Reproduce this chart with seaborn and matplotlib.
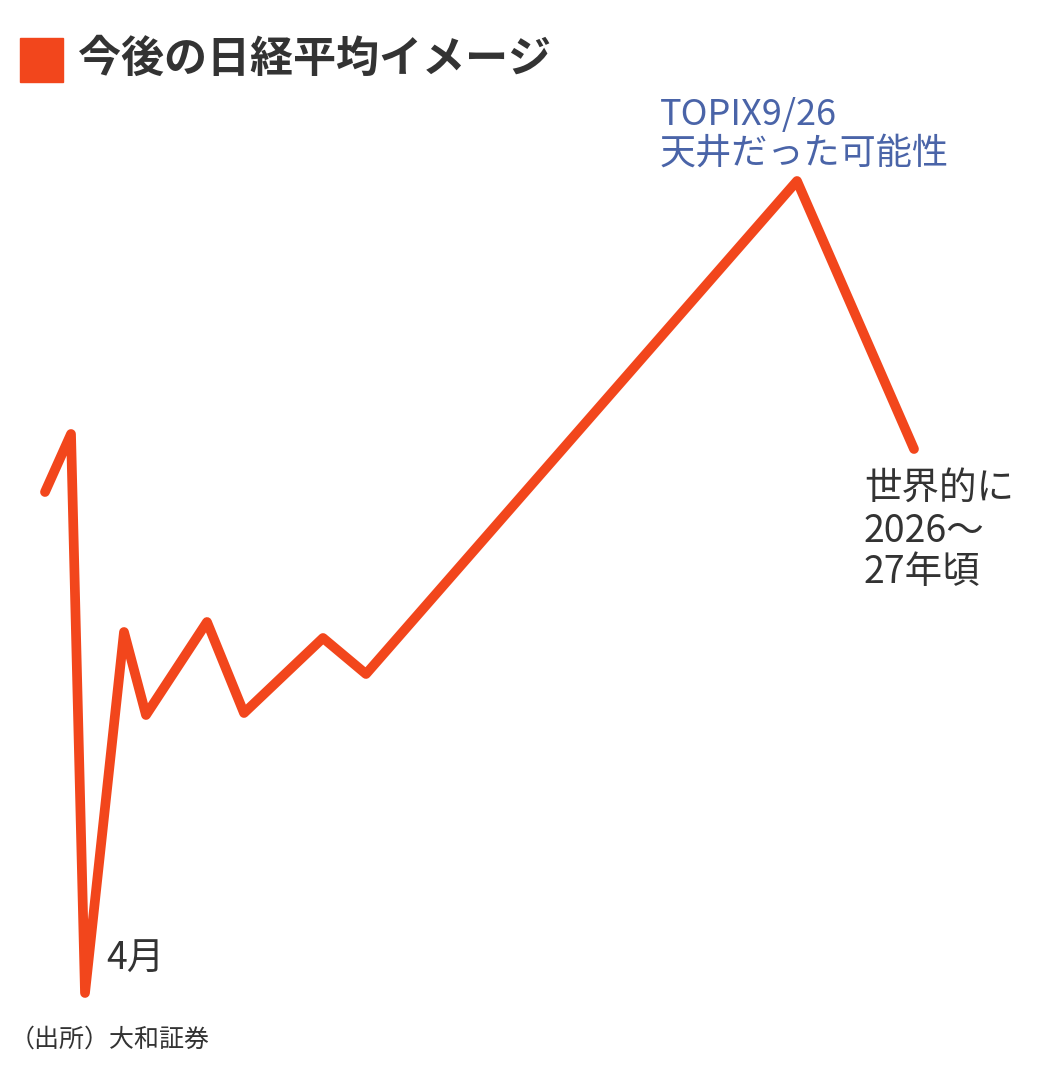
import seaborn as sns
import matplotlib.pyplot as plt
import pandas as pd

step = [45, 71, 85, 124, 146, 207, 244, 323, 366, 797, 914]
level = [584, 642, 83, 444, 361, 454, 363, 438, 402, 895, 627]

title = "今後の日経平均イメージ"
note_top = "TOPIX9/26\n天井だった可能性"
note_end = "世界的に\n2026〜\n27年頃"
note_low = "4月"
source = "（出所）大和証券"

sns.set_theme(style="white")
plt.rcParams['font.family'] = ['Noto Sans CJK JP', 'DejaVu Sans']

df = pd.DataFrame({"step": step, "level": level})

fig = plt.figure(figsize=(10.4, 10.76), dpi=100)
ax = fig.add_axes([0, 0, 1, 1])
sns.lineplot(data=df, x="step", y="level", sort=False, ax=ax, color="#F2461C",
             linewidth=7, solid_capstyle="round", solid_joinstyle="round")
ax.set_xlim(0, 1040)
ax.set_ylim(0, 1076)
ax.axis("off")

# title with red square
ax.add_patch(plt.Rectangle((20, 994), 43, 44, color="#F2461C"))
ax.text(78, 1017, title, fontsize=31, fontweight="bold", color="#333333", va="center")

ax.text(660, 942, note_top, fontsize=26, color="#4A64A8", va="center", linespacing=1.1)
ax.text(864, 545, note_end, fontsize=27, color="#333333", va="center", linespacing=1.1)
ax.text(106, 117, note_low, fontsize=27, color="#333333", va="center")
ax.text(10, 36, source, fontsize=18, color="#333333", va="center")

plt.savefig("out.png", dpi=100, facecolor="white")
